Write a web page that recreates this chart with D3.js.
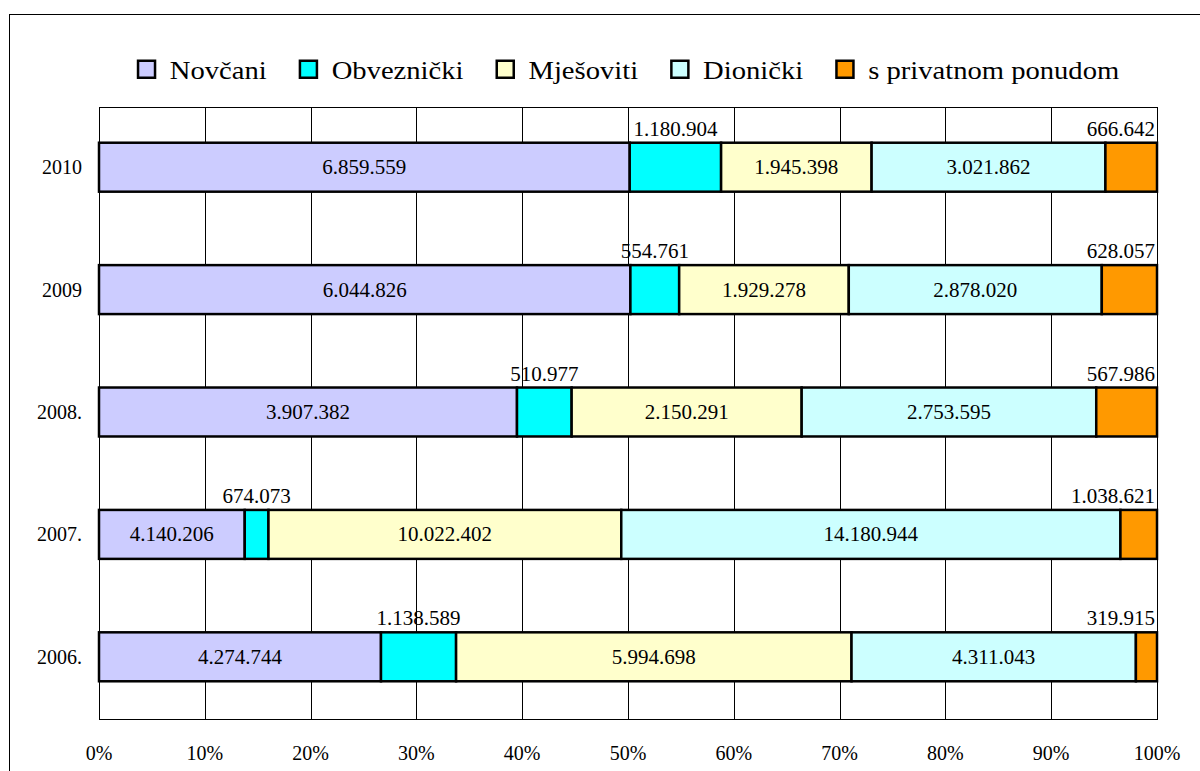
<!DOCTYPE html>
<html><head><meta charset="utf-8">
<script src="https://cdn.jsdelivr.net/npm/d3@7"></script>
<style>body{margin:0;background:#fff}svg{display:block}</style>
</head><body>
<svg id="c" width="1200" height="771" font-family="'Liberation Serif', 'Times New Roman', Times, serif"></svg>
<script>
const categories = ["2006.", "2007.", "2008.", "2009", "2010"];
const seriesNames = ["Novčani", "Obveznički", "Mješoviti", "Dionički", "s privatnom ponudom"];
const novcani    = [4274744, 4140206, 3907382, 6044826, 6859559];
const obveznicki = [1138589, 674073, 510977, 554761, 1180904];
const mjesoviti  = [5994698, 10022402, 2150291, 1929278, 1945398];
const dionicki   = [4311043, 14180944, 2753595, 2878020, 3021862];
const privatni   = [319915, 1038621, 567986, 628057, 666642];
const tickLabels = ["0%","10%","20%","30%","40%","50%","60%","70%","80%","90%","100%"];
const colors = ["#CCCCFF", "#00FFFF", "#FFFFCC", "#CCFFFF", "#FF9900"];
const labelsAbove = ["Obveznički", "s privatnom ponudom"];

const seriesValues = [novcani, obveznicki, mjesoviti, dionicki, privatni];
const FF = "'Liberation Serif', 'Times New Roman', Times, serif";
const svg = d3.select("#c");
const L = 99, R = 1157, T = 107, B = 719;

svg.append("rect").attr("x", 9.5).attr("y", 14.5).attr("width", 1220).attr("height", 800)
  .attr("fill", "#fff").attr("stroke", "#000").attr("stroke-width", 1);

const x = d3.scaleLinear().domain([0, 1]).range([L, R]);
const y = d3.scaleBand().domain(categories.slice().reverse()).range([T, B])
  .paddingInner(0.6).paddingOuter(0.3);

// gridlines
const ticks = d3.range(0, 1.0001, 0.1);
svg.append("g").selectAll("line").data(ticks).join("line")
  .attr("x1", d => Math.round(x(d)) + 0.5).attr("x2", d => Math.round(x(d)) + 0.5)
  .attr("y1", T).attr("y2", B).attr("stroke", "#000").attr("stroke-width", 1);
svg.append("rect").attr("x", L + 0.5).attr("y", T + 0.5).attr("width", R - L).attr("height", B - T)
  .attr("fill", "none").attr("stroke", "#000").attr("stroke-width", 1);

// stacked percent data
const rows = categories.map((c, i) => {
  const o = { cat: c };
  seriesNames.forEach((s, j) => o[s] = seriesValues[j][i]);
  return o;
});
const stack = d3.stack().keys(seriesNames).offset(d3.stackOffsetExpand);
const layers = stack(rows);

const fmt = v => d3.format(",")(v).replace(/,/g, ".");

const g = svg.append("g");
layers.forEach((layer, j) => {
  g.selectAll(null).data(layer).join("rect")
    .attr("x", d => x(d[0])).attr("width", d => x(d[1]) - x(d[0]))
    .attr("y", d => y(d.data.cat) - 1).attr("height", y.bandwidth())
    .attr("fill", colors[j]).attr("stroke", "#000").attr("stroke-width", 2.5);
});
layers.forEach((layer, j) => {
  const name = seriesNames[j];
  const above = labelsAbove.includes(name);
  layer.forEach(d => {
    const val = d.data[name];
    const x0 = x(d[0]), x1 = x(d[1]);
    const t = g.append("text").text(fmt(val)).attr("font-size", 21).attr("font-family", FF);
    const w = t.node().getComputedTextLength();
    let cx = (x0 + x1) / 2;
    if (above) {
      cx = Math.min(cx, R - 2 - w / 2);
      t.attr("x", cx).attr("y", y(d.data.cat) - 8).attr("text-anchor", "middle");
    } else {
      t.attr("x", cx).attr("y", y(d.data.cat) + y.bandwidth() / 2 + 6).attr("text-anchor", "middle");
    }
  });
});

// category labels
svg.append("g").selectAll("text").data(categories).join("text")
  .attr("x", 82).attr("y", d => y(d) + y.bandwidth() / 2 + 6).attr("font-family", FF)
  .attr("text-anchor", "end").attr("font-size", 20).text(d => d);

// tick labels
svg.append("g").selectAll("text").data(tickLabels).join("text")
  .attr("x", (d, i) => x(ticks[i])).attr("y", 760).attr("font-family", FF)
  .attr("text-anchor", "middle").attr("font-size", 20).text(d => d);

// legend
const lg = svg.append("g");
let cursor = 0;
const sx = 1.1, gap = 32;
seriesNames.forEach((s, j) => {
  const it = lg.append("g");
  it.append("rect").attr("x", 1.25).attr("y", -8.75).attr("width", 17).attr("height", 17)
    .attr("fill", colors[j]).attr("stroke", "#000").attr("stroke-width", 2.5);
  const t = it.append("text").attr("font-size", 26).attr("font-family", FF)
    .attr("transform", `translate(33,9) scale(${sx},1)`).text(s);
  const w = 33 + t.node().getComputedTextLength() * sx;
  it.attr("transform", `translate(${cursor},69.5)`);
  cursor += w + gap;
});
const totalW = cursor - gap;
lg.attr("transform", `translate(${(L + R) / 2 - totalW / 2},0)`);
</script>
</body></html>
